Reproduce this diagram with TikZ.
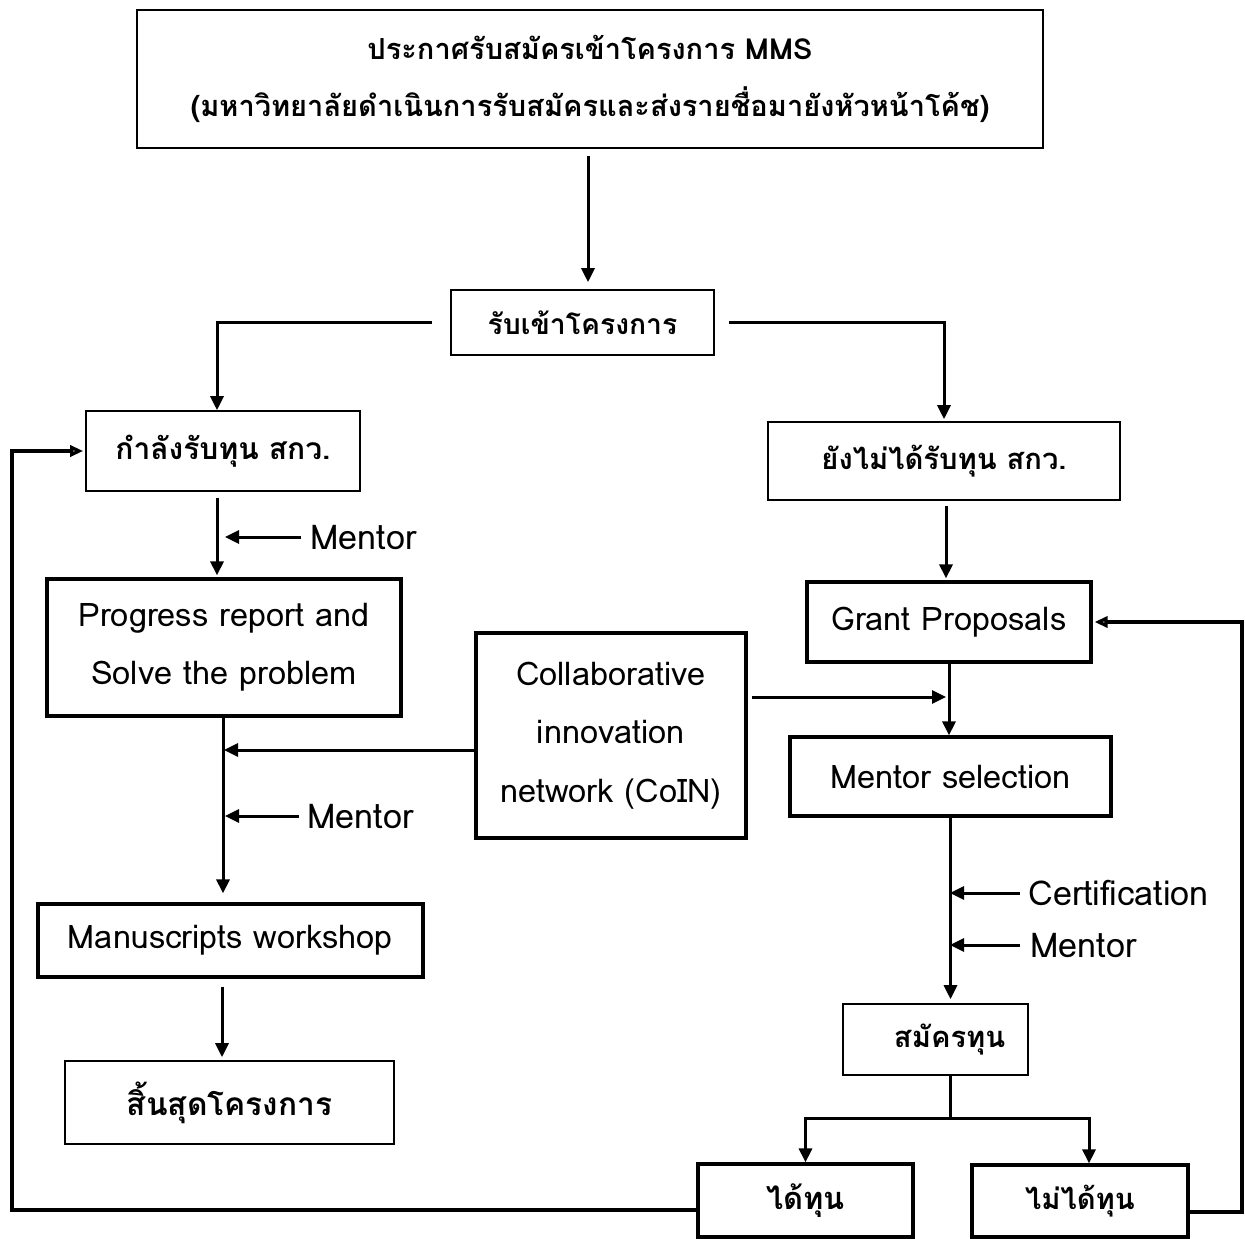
\documentclass[tikz,border=0pt]{standalone}
\usepackage{fontspec}
\setmainfont[Script=Thai]{Loma}
\usetikzlibrary{arrows.meta}
\def\u{0.6pt}
\tikzset{
  wh/.style 2 args={minimum width=#1*\u, minimum height=#2*\u},
  thinbox/.style={draw, line width=1.6*\u, inner sep=0pt, align=center},
  thickbox/.style={draw, line width=3.2*\u, inner sep=0pt, align=center},
  conn/.style={line width=3*\u, -{Triangle[length=14*\u,width=13*\u]}},
  plain/.style={line width=3*\u},
  loopline/.style={line width=4*\u, -{Triangle[open,length=13*\u,width=11*\u]}},
  thtop/.style={font=\bfseries\fontsize{17.4}{34}\selectfont},
  th/.style={font=\bfseries\fontsize{17.5}{30}\selectfont},
  en/.style={font=\fontsize{19.5}{35}\selectfont},
  lbl/.style={anchor=west, inner sep=0pt, font=\fontsize{20.5}{24}\selectfont},
}
\begin{document}
\begin{tikzpicture}[x=0.6pt,y=-0.6pt]
\useasboundingbox (0,0) rectangle (1245,1239);
% boxes
\node[thinbox, wh={906}{138}, thtop] (top) at (590,79) {ประกาศรับสมัครเข้าโครงการ MMS\\(มหาวิทยาลัยดำเนินการรับสมัครและส่งรายชื่อมายังหัวหน้าโค้ช)};
\node[thinbox, wh={263}{65}, th, font=\bfseries\fontsize{17}{30}\selectfont] (accept) at (582.5,322.5) {รับเข้าโครงการ};
\node[thinbox, wh={274}{80}, th, font=\bfseries\fontsize{18}{30}\selectfont] (inrec) at (223,451) {กำลังรับทุน สกว.};
\node[thinbox, wh={352}{78}, th] (norec) at (944,461) {ยังไม่ได้รับทุน สกว.};
\node[thickbox, wh={354}{137}, en] (prog) at (224,647.5) {Progress report and\\Solve the problem};
\node[thickbox, wh={284}{80}, en] (grant) at (949,622) {Grant Proposals};
\node[thickbox, wh={270}{205}, en] (coin) at (611,735.5) {Collaborative\\innovation\\network (CoIN)};
\node[thickbox, wh={321}{79}, en] (msel) at (950.5,776.5) {Mentor selection};
\node[thickbox, wh={385}{73}, en] (manu) at (230.5,940.5) {Manuscripts workshop};
\node[thinbox, wh={329}{83}, th, font=\bfseries\fontsize{19}{30}\selectfont] (endp) at (229.5,1102.5) {สิ้นสุดโครงการ};
\node[thinbox, wh={185}{71}, th] (apply) at (935.5,1039.5) {\hspace*{17pt}สมัครทุน};
\node[thickbox, wh={215}{73}, th, font=\bfseries\fontsize{18.5}{30}\selectfont] (got) at (805.5,1200.5) {ได้ทุน};
\node[thickbox, wh={216}{72}, th] (notgot) at (1080,1201) {ไม่ได้ทุน};
% labels
\node[lbl] (m1) at (310,537) {Mentor};
\node[lbl] (m2) at (307,816) {Mentor};
\node[lbl] (m3) at (1028,893) {Certification};
\node[lbl] (m4) at (1030,945) {Mentor};
% coordinates
\coordinate (c1) at (225,535);
\coordinate (c3) at (946,697);
\coordinate (c4) at (224,750);
\coordinate (c5) at (225,815);
\coordinate (c6) at (950,887);
\coordinate (c7) at (950,940);
\coordinate (split) at (950,1118);
\coordinate (lx) at (12,0);
\coordinate (rx) at (1242,0);
% connectors
\draw[conn, shorten <=7*\u, shorten >=7*\u] (top.south -| 588,0) -- (accept.north -| 588,0);
\draw[conn, shorten <=18*\u] (accept.west) -| (inrec.north -| 217,0);
\draw[conn, shorten <=14*\u, shorten >=2*\u] (accept.east) -| (norec.north);
\draw[conn, shorten <=6*\u, shorten >=2*\u] (inrec.south -| 217,0) -- (prog.north -| 217,0);
\draw[conn, shorten <=9*\u] (m1.west) -- (m1.west -| c1);
\draw[conn, shorten <=5*\u, shorten >=2*\u] (norec.south -| 946,0) -- (grant.north -| 946,0);
\draw[conn] (grant.south) -- (grant.south |- msel.north);
\draw[conn, shorten <=4*\u] (coin.east |- c3) -- (c3);
\draw[conn, shorten >=9*\u] (prog.south -| 223,0) -- (manu.north -| 223,0);
\draw[conn] (coin.west |- c4) -- (c4);
\draw[conn, shorten <=8*\u] (m2.west) -- (m2.west -| c5);
\draw[conn, shorten <=8*\u, shorten >=3*\u] (manu.south -| 222,0) -- (endp.north -| 222,0);
\draw[conn, shorten >=4*\u] (msel.south) -- (msel.south |- apply.north);
\draw[conn, shorten <=8*\u] (m3.west) -- (m3.west -| c6);
\draw[conn, shorten <=10*\u] (m4.west) -- (m4.west -| c7);
\draw[plain] (split |- apply.south) -- (split);
\draw[conn] (split) -| (got.north);
\draw[conn] (split) -| ([xshift=9*\u]notgot.north);
\draw[loopline, shorten >=2*\u] ([yshift=-9*\u]got.west) -| (lx |- inrec.west) -- (inrec.west);
\draw[loopline, shorten >=2*\u] ([yshift=-11*\u]notgot.east) -| (rx |- grant.east) -- (grant.east);
\end{tikzpicture}
\end{document}
